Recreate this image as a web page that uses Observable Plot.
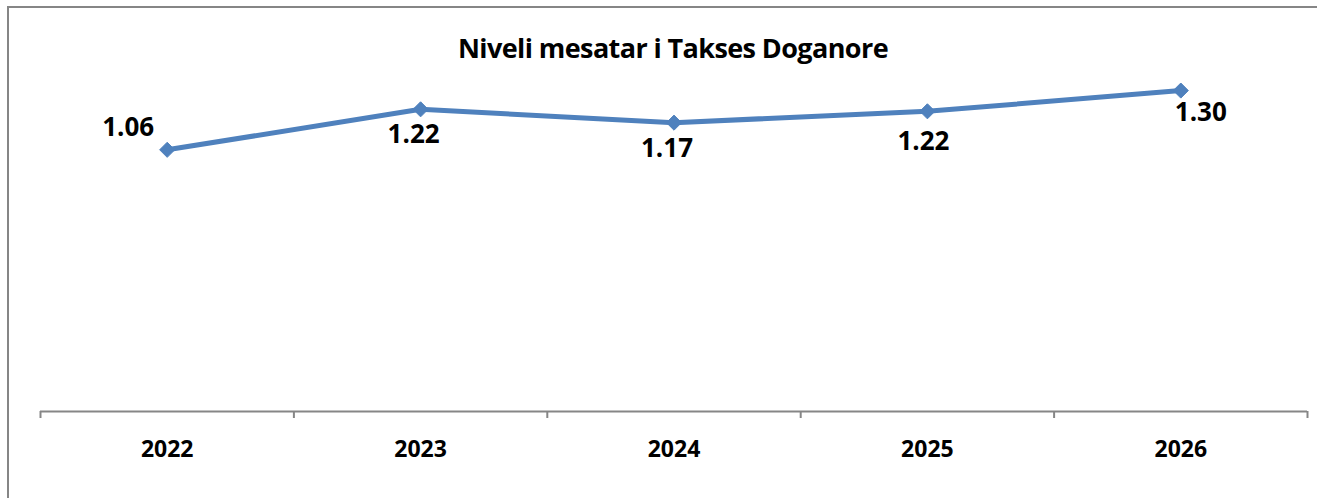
<!DOCTYPE html>
<html>
<head>
<meta charset="utf-8">
<script src="https://cdn.jsdelivr.net/npm/d3@7"></script>
<script src="https://cdn.jsdelivr.net/npm/@observablehq/plot@0.6"></script>
<style>
  html, body { margin: 0; padding: 0; background: #ffffff; }
  #wrap { position: relative; width: 1317px; height: 498px; overflow: hidden; background: #ffffff; }
  #frame { position: absolute; left: 7px; top: 6px; width: 1320px; height: 500px;
           border-top: 2px solid #868686; border-left: 2px solid #868686; box-sizing: border-box; }
  #title { position: absolute; left: 673px; top: 34px; transform: translateX(-50%);
           font-family: "Open Sans", Lato, sans-serif; font-weight: bold; font-size: 27px;
           line-height: 27px; white-space: nowrap; color: #000; letter-spacing: -0.6px; }
  #chart { position: absolute; left: 0; top: 0; }
  #chart svg { overflow: visible; }
</style>
</head>
<body>
<div id="wrap">
  <div id="frame"></div>
  <div id="title"></div>
  <div id="chart"></div>
</div>
<script>
const title = "Niveli mesatar i Takses Doganore";
const years = ["2022", "2023", "2024", "2025", "2026"];
const values = [1.06, 1.224, 1.17, 1.216, 1.30];

document.getElementById("title").textContent = title;

const data = years.map((year, i) => ({ year, i, value: values[i], label: values[i].toFixed(2) }));
const pos = d => d.i + 0.5;

// label placement (style only): [dx, dy]
const labelOffsets = [[-39, -22], [-7, 25], [-7, 26], [-4, 30], [20, 22]];

const font = "'Open Sans', Lato, sans-serif";
const blue = "#4F81BD";

const chart = Plot.plot({
  width: 1317,
  height: 498,
  marginLeft: 40,
  marginRight: 10,
  marginTop: 16,
  marginBottom: 87,
  x: { type: "linear", domain: [0, years.length], axis: null },
  y: { domain: [0, 1.6], axis: null },
  style: { fontFamily: font, background: "transparent" },
  marks: [
    Plot.ruleY([0], { stroke: "#868686", strokeWidth: 2 }),
    Plot.axisX({ ticks: d3.range(years.length + 1), tickSize: 7, tickFormat: () => "", stroke: "#868686", strokeWidth: 2, strokeOpacity: 1 }),
    Plot.text(data, { x: pos, y: 0, dy: 38, text: "year", fontSize: 23, fontWeight: "bold", fill: "#000" }),
    Plot.line(data, { x: pos, y: "value", stroke: blue, strokeWidth: 5 }),
    Plot.dot(data, { x: pos, y: "value", symbol: "diamond2", r: 6.8, fill: blue, stroke: blue, strokeWidth: 1 }),
    ...data.map((d, k) => Plot.text([d], {
      x: pos, y: "value", text: "label",
      dx: labelOffsets[k][0], dy: labelOffsets[k][1],
      fontSize: 26, fontWeight: "bold", fill: "#000"
    }))
  ]
});
document.getElementById("chart").appendChild(chart);
</script>
</body>
</html>
